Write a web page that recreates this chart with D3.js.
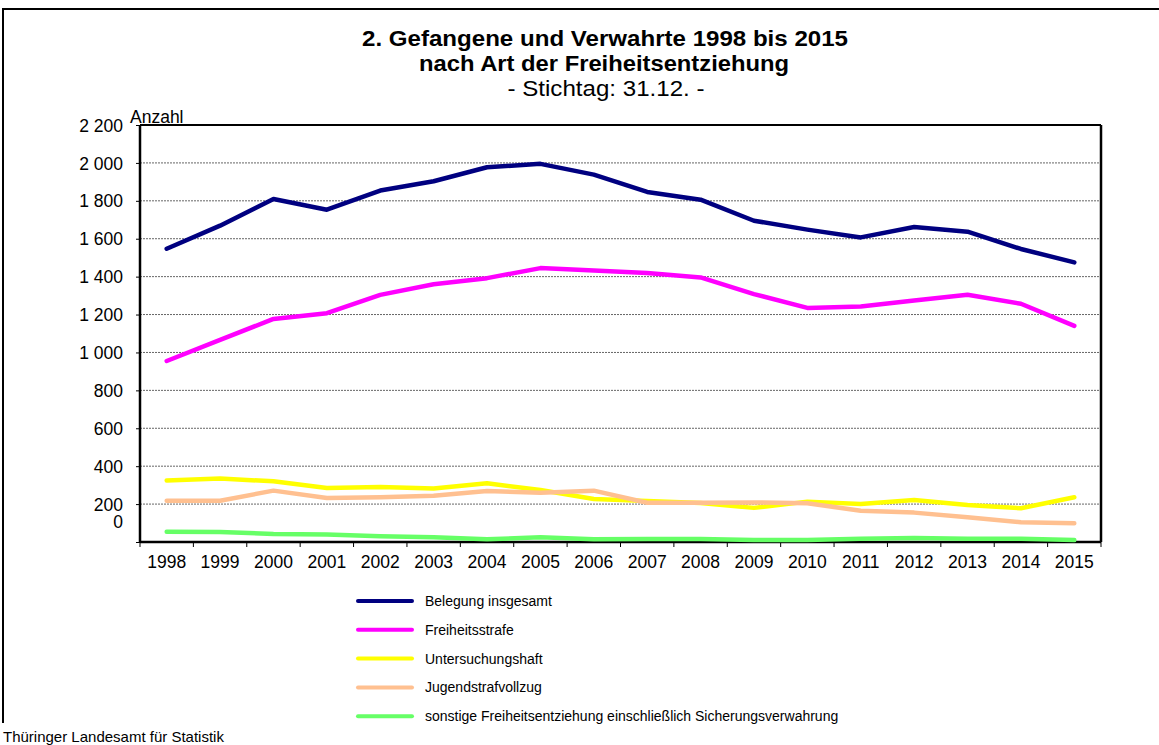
<!DOCTYPE html>
<html>
<head>
<meta charset="utf-8">
<script src="https://cdn.jsdelivr.net/npm/d3@7"></script>
<style>
  body { margin: 0; background: #fff; }
  svg text { font-family: Arial, "Liberation Sans", sans-serif; fill: #000; }
</style>
</head>
<body>
<div id="chart"></div>
<script>
// data
var years = ['1998','1999','2000','2001','2002','2003','2004','2005','2006','2007','2008','2009','2010','2011','2012','2013','2014','2015'];
var belegung = [1547,1669,1810,1753,1854,1903,1977,1995,1938,1847,1806,1695,1648,1607,1662,1637,1546,1475];
var freiheitsstrafe = [955,1066,1177,1207,1304,1360,1392,1445,1433,1419,1396,1308,1235,1242,1274,1304,1257,1140];
var untersuchungshaft = [325,335,320,285,290,282,310,274,227,216,206,180,213,200,222,195,178,236];
var jugendstrafvollzug = [218,218,271,232,236,244,269,260,271,207,207,209,204,165,155,130,104,99];
var sonstige = [54,53,42,39,30,25,14,25,14,16,16,10,10,17,21,17,17,10];
var yTicks = [0,200,400,600,800,1000,1200,1400,1600,1800,2000,2200];

var seriesNames = ['Belegung insgesamt','Freiheitsstrafe','Untersuchungshaft','Jugendstrafvollzug','sonstige Freiheitsentziehung einschließlich Sicherungsverwahrung'];
var seriesColors = ['#000080','#ff00ff','#ffff00','#ffc090','#66ff66'];
var seriesValues = [belegung, freiheitsstrafe, untersuchungshaft, jugendstrafvollzug, sonstige];

var W = 1159, H = 745;
var plotL = 140, plotR = 1101, plotT = 125, plotB = 542;

var svg = d3.select('#chart').append('svg')
    .attr('width', W)
    .attr('height', H);

// outer frame (right and bottom run off the picture)
svg.append('path')
    .attr('d', 'M3,723 V9 H' + W)
    .attr('fill', 'none')
    .attr('stroke', '#000')
    .attr('stroke-width', 2);

// titles
svg.append('text').attr('x', 605).attr('y', 46).attr('text-anchor', 'middle')
    .style('font-size', '22px').style('font-weight', 'bold')
    .attr('textLength', 486).attr('lengthAdjust', 'spacingAndGlyphs')
    .text('2. Gefangene und Verwahrte 1998 bis 2015');
svg.append('text').attr('x', 604).attr('y', 71).attr('text-anchor', 'middle')
    .style('font-size', '22px').style('font-weight', 'bold')
    .attr('textLength', 370).attr('lengthAdjust', 'spacingAndGlyphs')
    .text('nach Art der Freiheitsentziehung');
svg.append('text').attr('x', 606).attr('y', 96).attr('text-anchor', 'middle')
    .style('font-size', '22px')
    .attr('textLength', 197).attr('lengthAdjust', 'spacingAndGlyphs')
    .text('- Stichtag: 31.12. -');

var x = d3.scaleBand().domain(years).range([plotL, plotR]);
var y = d3.scaleLinear().domain([0, 2200]).range([plotB, plotT]);

// gridlines
svg.append('g').selectAll('line')
    .data(yTicks.filter(d => d > 0 && d < 2200))
    .enter().append('line')
    .attr('x1', plotL).attr('x2', plotR)
    .attr('y1', d => y(d)).attr('y2', d => y(d))
    .attr('stroke', '#666')
    .attr('stroke-width', 1)
    .attr('stroke-dasharray', '2,1');

// y axis
var fmt = d => d3.format(',')(d).replace(/,/g, ' ');
var yAxis = svg.append('g')
    .attr('transform', 'translate(' + plotL + ',0)')
    .call(d3.axisLeft(y).tickValues(yTicks).tickSize(4).tickPadding(13).tickFormat(fmt));
yAxis.select('.domain').remove();
yAxis.selectAll('.tick line').attr('stroke', '#000');
yAxis.selectAll('.tick text')
    .style('font-size', '17.5px')
    .attr('dy', '0.35em')
    .attr('transform', d => d === 0 ? 'translate(0,-21)' : null);

// x axis
var xAxis = svg.append('g')
    .attr('transform', 'translate(0,' + plotB + ')')
    .call(d3.axisBottom(x).tickSize(0).tickPadding(14));
xAxis.select('.domain').remove();
xAxis.selectAll('.tick text').style('font-size', '17.5px');
// ticks at band edges
svg.append('g').selectAll('line')
    .data(years.concat(['end']))
    .enter().append('line')
    .attr('x1', (d, i) => plotL + i * x.step())
    .attr('x2', (d, i) => plotL + i * x.step())
    .attr('y1', plotB).attr('y2', plotB + 5)
    .attr('stroke', '#000');

// plot frame
svg.append('line').attr('x1', plotL).attr('x2', plotR).attr('y1', plotT).attr('y2', plotT)
    .attr('stroke', '#000').attr('stroke-width', 2);
svg.append('line').attr('x1', plotR).attr('x2', plotR).attr('y1', plotT).attr('y2', plotB)
    .attr('stroke', '#000').attr('stroke-width', 2.5);
svg.append('line').attr('x1', plotL).attr('x2', plotR).attr('y1', plotB).attr('y2', plotB)
    .attr('stroke', '#000').attr('stroke-width', 2.5);
svg.append('line').attr('x1', plotL).attr('x2', plotL).attr('y1', plotT).attr('y2', plotB)
    .attr('stroke', '#000').attr('stroke-width', 2.5);

svg.append('text').attr('x', 130).attr('y', 123)
    .style('font-size', '17.5px').text('Anzahl');

// series
var line = d3.line()
    .x((d, i) => x(years[i]) + x.bandwidth() / 2)
    .y(d => y(d));

svg.append('g').selectAll('path')
    .data(seriesValues)
    .enter().append('path')
    .attr('d', d => line(d))
    .attr('fill', 'none')
    .attr('stroke', (d, i) => seriesColors[i])
    .attr('stroke-width', 4.5)
    .attr('stroke-linejoin', 'round')
    .attr('stroke-linecap', 'round');

// legend
var lg = svg.append('g').selectAll('g')
    .data(seriesNames)
    .enter().append('g')
    .attr('transform', (d, i) => 'translate(358,' + (601 + i * 28.8) + ')');
lg.append('line')
    .attr('x1', 0).attr('x2', 54)
    .attr('stroke', (d, i) => seriesColors[i])
    .attr('stroke-width', 4)
    .attr('stroke-linecap', 'round');
lg.append('text')
    .attr('x', 67).attr('dy', '0.35em')
    .style('font-size', '14px')
    .text(d => d);

svg.append('text').attr('x', 3).attr('y', 742)
    .style('font-size', '15px')
    .text('Thüringer Landesamt für Statistik');
</script>
</body>
</html>
